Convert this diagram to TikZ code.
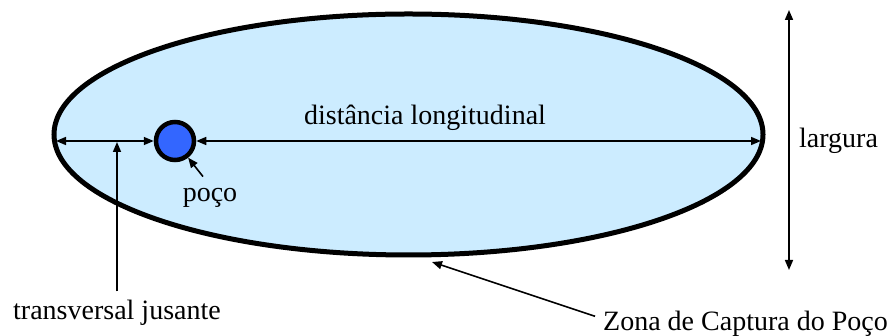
\documentclass[tikz,border=0pt]{standalone}
\usepackage{fontspec}
\setmainfont{Liberation Serif}
\usepackage{xcolor}
\usetikzlibrary{shapes, arrows.meta, positioning, calc}
\definecolor{zonefill}{RGB}{204,236,255}
\definecolor{wellfill}{RGB}{51,102,255}

\begin{document}
\begin{tikzpicture}[
x=1pt, y=1pt,
font=\fontsize{28}{34}\selectfont,
>={Triangle[length=10pt, width=8pt]},
zone_node/.style={ellipse, draw, line width=5pt, fill=zonefill, minimum width=709pt, minimum height=241pt, inner sep=0pt},
well_node/.style={circle, draw, line width=4.5pt, fill=wellfill, minimum size=38pt, inner sep=0pt},
text_node/.style={inner sep=2pt},
dim_line/.style={<->, line width=1.6pt},
note_line/.style={->, line width=1.6pt}
]
\useasboundingbox (0,0) rectangle (896,336);

% Capture zone and well
\node[zone_node] (zone) at (408.5,201.5) {};
\node[well_node] (well) at (175,195) {};

% Distances inside the zone
\draw[dim_line, shorten >=4.5pt] (well.west) -- (zone.west |- well.west);
\draw[dim_line, shorten >=4.5pt] (well.east) -- (zone.east |- well.east);
\node[text_node, anchor=base] (longlabel) at (425,211) {distância longitudinal};

% Width
\coordinate (widthtop) at (789,326);
\coordinate (widthbot) at (789,66);
\draw[dim_line] (widthtop) -- (widthbot);
\node[text_node, anchor=base west] (widthlabel) at (797,188) {largura};

% Labels
\node[text_node, anchor=base] (welllabel) at (210,134) {poço};
\node[text_node, anchor=base] (translabel) at (117,16) {transversal jusante};
\node[text_node, anchor=base west] (zonelabel) at (601,5) {Zona de Captura do Poço};
\coordinate (zonetip) at (432,74);

\draw[note_line] ([xshift=-7pt, yshift=10pt]welllabel.north) -- (well);
\draw[note_line, shorten >=1pt] ([yshift=7pt]translabel.north) -- (translabel.north |- well);
\draw[note_line] ([xshift=-6pt, yshift=8pt]zonelabel.west) -- (zonetip);
\end{tikzpicture}
\end{document}
